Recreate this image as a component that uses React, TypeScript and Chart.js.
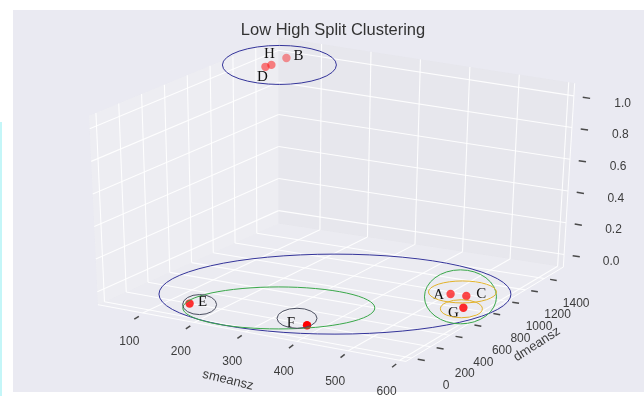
import React, { useEffect, useRef } from 'react';
import { Chart, registerables } from 'chart.js';

Chart.register(...registerables);

const W = 644;
const H = 396;

// ---- data ----
const pointLabels = ['A', 'B', 'C', 'D', 'E', 'F', 'G', 'H'];
const smeansz = [539, 52, 569, 52, 178, 408, 596, 54];
const dmeansz = [787, 1499, 796, 1313, 8, 0, 625, 1357];
const split = [0, 1, 0, 1, 0, 0, 0, 1];

const xTicks = [100, 200, 300, 400, 500, 600];
const yTicks = [0, 200, 400, 600, 800, 1000, 1200, 1400];
const zTicks = [0, 0.2, 0.4, 0.6, 0.8, 1.0];
const zTickLabels = ['0.0', '0.2', '0.4', '0.6', '0.8', '1.0'];

const titleText = 'Low High Split Clustering';
const xLabel = 'smeansz';
const yLabel = 'dmeansz';

// cluster memberships (hierarchy)
const level1 = [['B', 'D', 'H'], ['A', 'C', 'E', 'F', 'G']];
const level2 = [['E', 'F'], ['A', 'C', 'G']];
const level3 = [['E'], ['F'], ['A', 'C'], ['G']];

// ---- view / style ----
const xRange = [13, 612];
const yRange = [-60, 1600];
const zRange = [-0.08, 1.08];

// screen corners of the 3D box (camera)
const cA = [95, 307], cB = [407, 365], cC = [566.5, 268.6], cD = [278, 224];
const tA = [86, 114], tB = [412, 158.5], tC = [578, 80.7], tD = [278, 34];

const FONT_SANS = '"Liberation Sans", Arial, sans-serif';
const FONT_SERIF = '"Liberation Serif", "Times New Roman", serif';

const labelOffsets: Record<string, [number, number]> = {
  A: [-12, 1], B: [12, -2], C: [15, -2], D: [-3, 10],
  E: [13, -2], F: [-16, -2], G: [-10, 5], H: [-2, -11],
};

const ellipseStyles = [
  { set: level1, idx: 0, dx: 3.5, dy: 2.5, rx: 57, ry: 19.5, color: '#34349a' },
  { set: level1, idx: 1, dx: 7, dy: -15.5, rx: 176, ry: 40, color: '#34349a' },
  { set: level2, idx: 0, dx: 30.5, dy: -6.5, rx: 96, ry: 21, color: '#3aa84a' },
  { set: level2, idx: 1, dx: 2, dy: -4, rx: 36, ry: 27, color: '#3aa84a' },
  { set: level3, idx: 0, dx: 10, dy: 1, rx: 17, ry: 10, color: '#4b4f60' },
  { set: level3, idx: 1, dx: -10, dy: -7, rx: 20, ry: 10, color: '#4b4f60' },
  { set: level3, idx: 2, dx: 4, dy: -3, rx: 34, ry: 11, color: '#e2b32a' },
  { set: level3, idx: 3, dx: -2, dy: 1, rx: 21, ry: 9, color: '#e2b32a' },
];

function nx(x: number) { return (x - xRange[0]) / (xRange[1] - xRange[0]); }
function ny(y: number) { return (y - yRange[0]) / (yRange[1] - yRange[0]); }
function nz(z: number) { return (z - zRange[0]) / (zRange[1] - zRange[0]); }

function bil(p00: number[], p10: number[], p11: number[], p01: number[], u: number, v: number) {
  return [
    p00[0] * (1 - u) * (1 - v) + p10[0] * u * (1 - v) + p11[0] * u * v + p01[0] * (1 - u) * v,
    p00[1] * (1 - u) * (1 - v) + p10[1] * u * (1 - v) + p11[1] * u * v + p01[1] * (1 - u) * v,
  ];
}
function proj(u: number, v: number, w: number) {
  const b = bil(cA, cB, cC, cD, u, v);
  const t = bil(tA, tB, tC, tD, u, v);
  return [b[0] + (t[0] - b[0]) * w, b[1] + (t[1] - b[1]) * w];
}

export default function App() {
  const ref = useRef<HTMLCanvasElement>(null);

  useEffect(() => {
    const canvas = ref.current!;
    const pts = pointLabels.map((lab, i) => {
      const u = nx(smeansz[i]), v = ny(dmeansz[i]), w = nz(split[i]);
      const p = proj(u, v, w);
      return { x: p[0], y: p[1], lab, depth: 0.433 * u - 0.75 * v + 0.5 * w };
    });
    const dMin = Math.min(...pts.map(p => p.depth));
    const dMax = Math.max(...pts.map(p => p.depth));
    pts.sort((a, b) => a.depth - b.depth);
    const colors = pts.map(p => {
      const a = 0.4 + 0.6 * (p.depth - dMin) / (dMax - dMin);
      return `rgba(255,0,0,${a.toFixed(3)})`;
    });

    const scene = {
      id: 'scene3d',
      beforeDatasetsDraw(chart: any) {
        const ctx: CanvasRenderingContext2D = chart.ctx;
        const sx = chart.scales.x, sy = chart.scales.y;
        const P = (u: number, v: number, w: number) => {
          const p = proj(u, v, w);
          return [sx.getPixelForValue(p[0]), sy.getPixelForValue(p[1])];
        };
        ctx.save();
        // backgrounds
        ctx.fillStyle = '#ffffff';
        ctx.fillRect(0, 0, W, H);
        ctx.fillStyle = '#eaeaf2';
        ctx.fillRect(13, 10, W - 13, 382);
        ctx.fillStyle = '#c4f6f8';
        ctx.fillRect(0, 122, 2, H - 122);

        const poly = (ps: number[][], fill: string) => {
          ctx.beginPath();
          ps.forEach((p, k) => (k ? ctx.lineTo(p[0], p[1]) : ctx.moveTo(p[0], p[1])));
          ctx.closePath();
          ctx.fillStyle = fill;
          ctx.fill();
        };
        // panes
        poly([P(0, 0, 0), P(0, 1, 0), P(0, 1, 1), P(0, 0, 1)], 'rgba(242,242,242,0.45)');
        poly([P(0, 1, 0), P(1, 1, 0), P(1, 1, 1), P(0, 1, 1)], 'rgba(228,228,232,0.5)');
        poly([P(0, 0, 0), P(1, 0, 0), P(1, 1, 0), P(0, 1, 0)], 'rgba(238,238,240,0.45)');

        const line = (a: number[], b: number[]) => {
          ctx.beginPath();
          ctx.moveTo(a[0], a[1]);
          ctx.lineTo(b[0], b[1]);
          ctx.stroke();
        };
        // grid
        ctx.strokeStyle = 'rgba(255,255,255,0.9)';
        ctx.lineWidth = 1.1;
        xTicks.forEach(t => {
          const u = nx(t);
          line(P(u, 0, 0), P(u, 1, 0));
          line(P(u, 1, 0), P(u, 1, 1));
        });
        yTicks.forEach(t => {
          const v = ny(t);
          line(P(0, v, 0), P(1, v, 0));
          line(P(0, v, 0), P(0, v, 1));
        });
        zTicks.forEach(t => {
          const w = nz(t);
          line(P(0, 0, w), P(0, 1, w));
          line(P(0, 1, w), P(1, 1, w));
        });
        // axis lines
        ctx.lineWidth = 1;
        line(P(0, 0, 0), P(1, 0, 0));
        line(P(1, 0, 0), P(1, 1, 0));
        line(P(1, 1, 0), P(1, 1, 1));

        // tick marks
        ctx.strokeStyle = '#4a4a4a';
        ctx.lineWidth = 1.5;
        xTicks.forEach(t => { const u = nx(t); line(P(u, -0.022, -0.008), P(u, -0.048, -0.012)); });
        yTicks.forEach(t => { const v = ny(t); line(P(1.02, v, 0), P(1.043, v, 0)); });
        zTicks.forEach(t => { const w = nz(t); line(P(1.03, 1, w), P(1.055, 1, w)); });

        // tick labels
        ctx.fillStyle = '#3c3c3c';
        ctx.font = `12px ${FONT_SANS}`;
        ctx.textAlign = 'center';
        ctx.textBaseline = 'middle';
        xTicks.forEach(t => { const p = P(nx(t), -0.08, -0.115); ctx.fillText(String(t), p[0], p[1]); });
        yTicks.forEach(t => { const p = P(1.115, ny(t), -0.105); ctx.fillText(String(t), p[0], p[1]); });
        zTicks.forEach((t, k) => { const p = P(1.165, 1, nz(t)); ctx.fillText(zTickLabels[k], p[0], p[1]); });

        // axis labels
        const rotText = (txt: string, at: number[], a: number[], b: number[], extra: number) => {
          const ang = Math.atan2(b[1] - a[1], b[0] - a[0]) + extra;
          ctx.save();
          ctx.translate(at[0], at[1]);
          ctx.rotate(ang);
          ctx.fillText(txt, 0, 0);
          ctx.restore();
        };
        ctx.font = `13px ${FONT_SANS}`;
        rotText(xLabel, P(0.53, -0.2, -0.14), P(0, 0, 0), P(1, 0, 0), 0.06);
        rotText(yLabel, P(1.21, 0.44, -0.07), P(1, 0, 0), P(1, 1, 0), -0.03);

        // title
        ctx.fillStyle = '#333333';
        ctx.font = `16.5px ${FONT_SANS}`;
        ctx.textBaseline = 'alphabetic';
        ctx.fillText(titleText, 333, 35);
        ctx.restore();
      },
      afterDatasetsDraw(chart: any) {
        const ctx: CanvasRenderingContext2D = chart.ctx;
        const meta = chart.getDatasetMeta(0);
        const pos: Record<string, number[]> = {};
        meta.data.forEach((el: any, k: number) => { pos[pts[k].lab] = [el.x, el.y]; });
        ctx.save();
        ctx.fillStyle = '#111111';
        ctx.font = `15px ${FONT_SERIF}`;
        ctx.textAlign = 'center';
        ctx.textBaseline = 'middle';
        pointLabels.forEach(lab => {
          const p = pos[lab];
          const o = labelOffsets[lab];
          ctx.fillText(lab, p[0] + o[0], p[1] + o[1]);
        });
        ctx.lineWidth = 1;
        ellipseStyles.forEach(e => {
          const members = e.set[e.idx];
          const xs = members.map(m => pos[m][0]);
          const ys = members.map(m => pos[m][1]);
          const cx = (Math.min(...xs) + Math.max(...xs)) / 2 + e.dx;
          const cy = (Math.min(...ys) + Math.max(...ys)) / 2 + e.dy;
          ctx.strokeStyle = e.color;
          ctx.beginPath();
          ctx.ellipse(cx, cy, e.rx, e.ry, 0, 0, Math.PI * 2);
          ctx.stroke();
        });
        ctx.restore();
      },
    };

    const chart = new Chart(canvas, {
      type: 'scatter',
      data: {
        datasets: [{
          data: pts.map(p => ({ x: p.x, y: p.y })),
          pointRadius: 4.2,
          pointBackgroundColor: colors,
          pointBorderWidth: 0,
          pointHoverRadius: 4.2,
        }],
      },
      options: {
        animation: false,
        responsive: false,
        maintainAspectRatio: false,
        events: [],
        layout: { padding: 0 },
        scales: {
          x: { type: 'linear', min: 0, max: W, display: false },
          y: { type: 'linear', min: 0, max: H, reverse: true, display: false },
        },
        plugins: { legend: { display: false }, tooltip: { enabled: false }, title: { display: false } },
      },
      plugins: [scene],
    } as any);
    return () => chart.destroy();
  }, []);

  return (
    <div style={{ position: 'fixed', left: 0, top: 0, width: W, height: H, background: '#fff' }}>
      <canvas ref={ref} width={W} height={H} style={{ display: 'block', width: W, height: H }} />
    </div>
  );
}
